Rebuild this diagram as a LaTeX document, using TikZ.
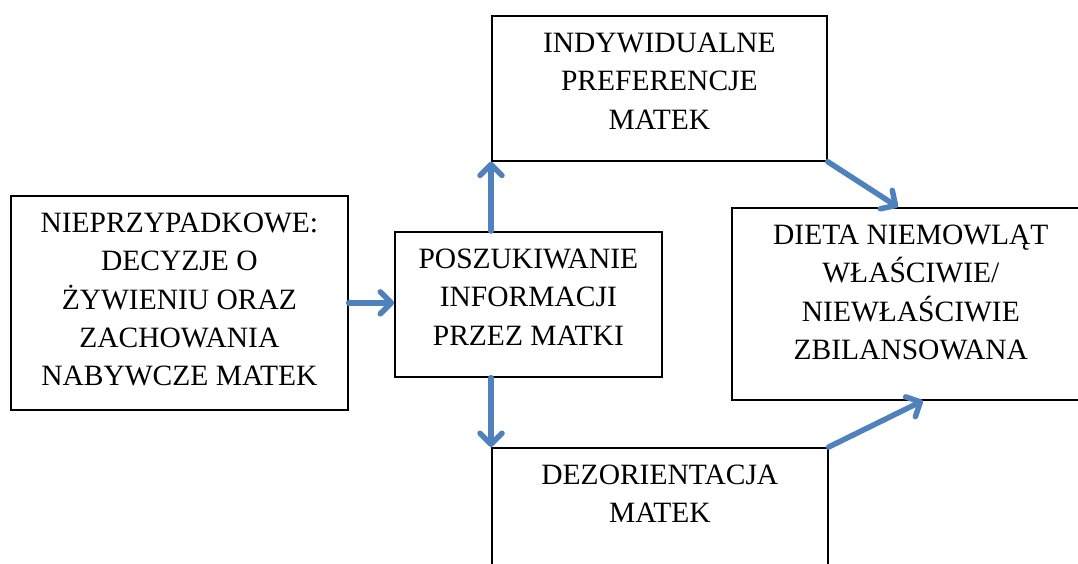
\documentclass[tikz,border=0pt]{standalone}
\usepackage{fontspec}
\setmainfont{Liberation Serif}
\usetikzlibrary{positioning,calc,arrows.meta}
\definecolor{linkblue}{RGB}{79,129,189}

\begin{document}
\begin{tikzpicture}[x=1pt, y=-1pt,
	block/.style = { rectangle, draw=black, line width=1.7pt, fill=white,
	inner sep=0pt, anchor=north west },
	caption/.style = { anchor=north, inner sep=0pt, align=center, yshift=-18pt,
	font=\fontsize{29.5}{38.2}\selectfont },
	link/.style = { draw=linkblue, line width=5.5pt, line cap=round,
	-{Straight Barb[length=11pt,width=22pt,round]} } ]

  \clip (0,0) rectangle (1078,563);

  \node [name=choice, block, minimum width=337pt, minimum height=214pt] at (10,195) {};
  \node [name=search, block, minimum width=267pt, minimum height=145pt] at (394,231) {};
  \node [name=prefs, block, minimum width=335pt, minimum height=145pt] at (491,15) {};
  \node [name=confusion, block, minimum width=336pt, minimum height=145pt] at (491,447) {};
  \node [name=diet, block, minimum width=358pt, minimum height=192pt] at (731,207) {};

  \node [caption] at (choice.north) {NIEPRZYPADKOWE:\\ DECYZJE O\\ ŻYWIENIU ORAZ\\
	ZACHOWANIA\\ NABYWCZE MATEK};
  \node [caption] at (search.north) {POSZUKIWANIE\\ INFORMACJI\\ PRZEZ MATKI};
  \node [caption] at (prefs.north) {INDYWIDUALNE\\ PREFERENCJE\\ MATEK};
  \node [caption] at (confusion.north) {DEZORIENTACJA\\ MATEK};
  \node [caption] at (diet.north) {DIETA NIEMOWLĄT\\ WŁAŚCIWIE/\\ NIEWŁAŚCIWIE\\
	ZBILANSOWANA};

  \draw [link] (choice.east) -- (choice.east -| search.west);
  \draw [link] (search.north -| prefs.south west) -- (prefs.south west);
  \draw [link] (search.south -| confusion.north west) -- (confusion.north west);
  \draw [link] (prefs.south east) -- ($(diet.north)+(-13,0)$);
  \draw [link] (confusion.north east) -- ($(diet.south)+(12,0)$);
\end{tikzpicture}
\end{document}
